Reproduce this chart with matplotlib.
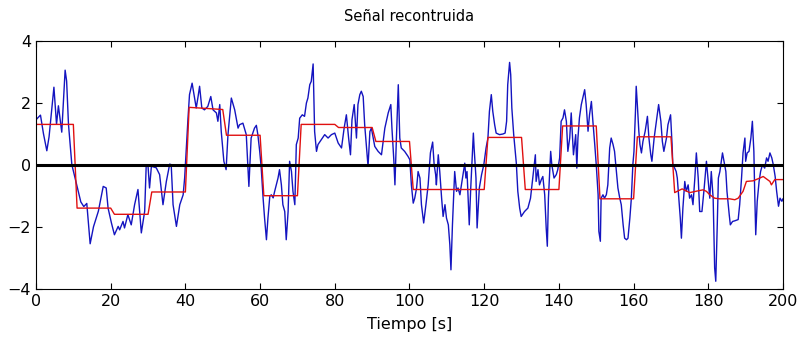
import matplotlib
matplotlib.use('Agg')
import matplotlib.pyplot as plt
from matplotlib import font_manager

blue_t = [0, 1.2, 2.0, 2.9, 3.5, 4.2, 4.8, 5.5, 6.0, 6.9, 7.8, 8.2, 8.7, 9.6, 10.5,
          11.5, 12.0, 12.8, 13.6, 14.5, 15.4, 16.7, 18.0, 18.8, 19.3, 20.2, 21.0,
          22.0, 22.4, 23.3, 23.7, 24.6, 25.5, 26.4, 27.3, 28.2, 29.1, 29.5, 30.0,
          30.4, 30.9, 32.2, 33.1, 34.0, 34.9, 35.8, 36.2, 36.7, 37.6, 38.5, 39.4,
          39.8, 40.7, 41.1, 41.8, 42.3, 42.9, 43.4, 43.8, 44.4, 45.1, 46.0, 46.8,
          47.4, 48.3, 48.7, 49.2, 49.6, 50.3, 50.9, 51.4, 52.3, 53.2, 54.1, 54.5,
          55.4, 56.3, 56.8, 57.0, 57.6, 58.5, 59.0, 59.4, 59.9, 60.3, 60.8, 61.2,
          61.7, 62.1, 62.6, 63.0, 63.5, 63.9, 64.8, 65.2, 65.7, 66.1, 66.6, 67.0,
          67.5, 67.9, 68.4, 68.8, 69.3, 69.7, 70.2, 70.6, 71.3, 71.9, 72.4, 72.8,
          73.3, 73.7, 74.2, 74.6, 75.1, 75.5, 76.4, 77.3, 78.2, 79.1, 80.0, 80.9,
          81.8, 82.5, 83.1, 83.7, 84.2, 84.6, 85.2, 85.8, 86.2, 86.7, 87.1, 87.6,
          88.0, 88.5, 88.9, 89.4, 89.8, 90.3, 90.7, 91.6, 92.5, 93.4, 94.3, 95.0,
          95.3, 95.8, 96.1, 96.5, 97.0, 97.4, 97.8, 98.7, 99.6, 100.1, 100.5,
          101.0, 101.4, 101.9, 102.3, 102.8, 103.2, 103.8, 104.4, 105.0, 105.6,
          106.2, 106.6, 107.0, 107.2, 107.7, 108.1, 108.6, 109.0, 109.5, 109.9,
          110.4, 110.8, 111.1, 111.5, 112.1, 112.6, 113.0, 113.5, 114.2, 114.8,
          115.1, 115.4, 116.0, 116.4, 116.9, 117.1, 117.3, 117.8, 118.1, 118.7,
          119.3, 119.9, 120.5, 121.0, 121.4, 121.9, 122.3, 122.8, 123.2, 124.1,
          125.0, 125.6, 126.0, 126.3, 126.8, 127.1, 127.4, 127.9, 128.6, 129.0,
          129.5, 129.9, 130.8, 131.7, 132.4, 132.9, 133.3, 133.7, 133.9, 134.4,
          134.8, 135.3, 135.7, 136.2, 136.6, 136.9, 137.2, 137.8, 138.1, 138.7,
          139.3, 139.7, 140.2, 140.6, 141.1, 141.5, 142.0, 142.4, 142.9, 143.3,
          143.6, 143.9, 144.5, 144.8, 145.1, 145.5, 146.0, 146.4, 146.9, 147.3,
          147.8, 148.2, 148.7, 149.1, 149.6, 150.0, 150.5, 150.7, 151.1, 151.3,
          151.8, 152.2, 152.7, 153.1, 153.6, 154.0, 154.5, 154.9, 155.4, 155.8,
          156.3, 156.7, 157.2, 157.6, 158.1, 158.5, 159.0, 159.4, 159.8, 160.1,
          160.5, 160.7, 161.0, 161.4, 161.7, 162.1, 162.5, 163.1, 163.7, 164.1,
          164.6, 164.9, 165.5, 166.1, 166.7, 167.3, 167.7, 168.1, 168.8, 169.2,
          169.9, 170.3, 170.5, 171.0, 171.4, 171.7, 172.1, 172.5, 172.8, 173.2,
          173.7, 174.1, 174.6, 175.0, 175.5, 175.9, 176.4, 176.8, 177.3, 177.7,
          178.3, 178.9, 179.5, 179.9, 180.4, 180.8, 181.3, 181.7, 182.0, 182.4,
          182.7, 183.1, 183.5, 183.8, 184.2, 184.7, 185.0, 185.6, 185.9, 186.5,
          187.1, 188.0, 188.4, 188.9, 189.3, 189.8, 190.0, 190.4, 190.9, 191.4,
          191.8, 192.2, 192.4, 192.7, 193.1, 193.6, 194.0, 194.5, 195.1, 195.6,
          196.0, 196.5, 197.0, 197.4, 197.9, 198.3, 198.8, 199.2, 199.7, 200.0]
blue_v = [1.45, 1.6, 1.0, 0.45, 0.9, 1.75, 2.5, 1.3, 1.9, 1.05, 3.05, 2.7, 1.3, 0.0, -0.45,
          -0.95, -1.2, -1.35, -1.25, -2.55, -2.0, -1.5, -0.7, -0.75, -1.4, -1.88, -2.26,
          -1.99, -2.1, -1.83, -2.04, -1.61, -1.94, -1.29, -0.8, -2.2, -1.5, -0.05, -0.05,
          -0.75, -0.05, -0.1, -0.32, -1.29, -0.54, 0.02, 0.0, -1.29, -1.99, -1.29, -0.97,
          -0.43, 1.5, 2.26, 2.63, 2.26, 1.83, 2.2, 2.53, 1.83, 1.77, 1.88, 2.2,
          1.77, 1.67, 1.4, 1.94, 1.07, 0.11, -0.16, 0.97, 2.15, 1.77, 1.18, 1.29,
          1.34, 0.97, -0.22, -0.7, 0.86, 1.18, 1.27, 0.97, 0.43, -0.1, -1.07, -1.72,
          -2.42, -1.72, -1.02, -0.97, -1.07, -0.86, -0.43, -0.16, -0.65, -1.29, -1.51, -2.42,
          -1.51, 0.11, -0.22, -0.86, -1.29, 0.65, 0.86, 1.5, 1.61, 1.56, 1.99, 2.15,
          2.58, 2.69, 3.25, 1.07, 0.43, 0.65, 0.81, 0.97, 0.86, 0.97, 1.02, 0.7,
          0.54, 1.18, 1.61, 0.86, 0.32, 1.45, 1.94, 0.86, 1.94, 2.26, 2.37, 2.2,
          1.29, 0.54, -0.05, 1.07, 1.18, 0.86, 0.59, 0.43, 0.32, 1.18, 1.67, 1.94,
          1.18, 0.16, -0.65, 0.86, 2.58, 0.86, 0.54, 0.43, 0.27, 0.16, -0.65,
          -1.24, -1.08, -0.75, -0.22, -0.43, -1.29, -1.88, -1.29, -0.65, 0.38,
          0.73, 0.0, -0.32, -0.65, 0.32, -0.22, -1.08, -1.67, -1.29, -1.72,
          -1.94, -2.58, -3.39, -1.94, -0.22, -0.86, -0.75, -0.97, -0.43, 0.05,
          -0.43, -0.22, -1.94, -0.75, 0.54, 1.02, 0.54, -0.43, -2.04, -0.75,
          -0.32, 0.0, 0.54, 0.86, 1.72, 2.26, 1.72, 1.29, 1.02, 0.97,
          0.99, 1.02, 1.4, 2.58, 3.3, 2.9, 1.83, 0.97, 0.05, -0.86,
          -1.4, -1.67, -1.51, -1.4, -1.08, -0.54, -0.11, 0.32, -0.54, -0.16,
          -0.65, -0.48, -0.38, -0.97, -2.04, -2.63, -1.08, 0.43, 0.0, -0.43,
          -0.32, -0.16, 0.22, 1.4, 1.51, 1.77, 1.4, 0.43, 0.86, 1.67,
          0.97, 0.32, 0.97, -0.11, 0.86, 1.51, 1.94, 2.15, 2.42, 1.94,
          1.08, 1.61, 2.04, 1.4, 0.65, 0.0, -0.97, -2.15, -2.47, -1.08,
          -0.97, -1.08, -0.97, -0.65, 0.54, 0.86, 0.65, 0.43, -0.22, -0.75,
          -1.08, -1.29, -1.94, -2.37, -2.42, -2.37, -1.72, -1.08, 0.0, 0.43,
          1.72, 2.53, 1.94, 1.08, 0.65, 0.38, 0.75, 1.08, 1.56, 0.86,
          0.32, 0.11, 0.86, 1.4, 1.94, 1.4, 0.75, 0.43, 0.86, 1.29,
          1.61, 0.65, 0.0, -0.11, -0.22, -0.43, -1.08, -1.72, -2.37, -1.4,
          -0.54, -0.86, -0.65, -1.08, -0.97, -1.29, -0.43, 0.38, -0.43, -1.51,
          -1.51, -0.75, 0.11, -0.43, -1.08, -0.22, -1.08, -3.33, -3.76, -1.94,
          -0.43, -0.22, 0.11, 0.38, 0.11, -0.22, -0.86, -1.61, -1.94, -1.83,
          -1.81, -1.77, -1.29, -0.43, 0.38, 0.86, 0.11, 0.38, 0.43, 0.86,
          1.4, 0.43, -0.75, -2.26, -1.18, -0.54, -0.22, 0.0, -0.11, 0.22,
          0.11, 0.38, 0.22, 0.0, -0.38, -0.86, -1.34, -1.08, -1.18, -1.1]

# red: reconstructed signal breakpoints
red_t = [0, 10, 11, 20, 21, 30, 31, 40, 41, 45, 50, 51, 60, 61, 70, 71, 80, 81,
         90, 91, 100, 101, 120, 121, 130, 131, 140, 141, 150, 151, 160, 161, 170,
         171, 173, 175, 177, 178.6, 179.5, 180.4, 181.7, 183, 185.7, 187.1, 188,
         189.3, 190.2, 192, 193.8, 194.7, 196.5, 196.9, 197.8, 200]
red_v = [1.3, 1.3, -1.4, -1.4, -1.6, -1.6, -0.88, -0.88, 1.85, 1.82, 1.78, 0.95,
         0.95, -1.0, -1.0, 1.3, 1.3, 1.2, 1.2, 0.75, 0.75, -0.8, -0.8, 0.88, 0.88,
         -0.8, -0.8, 1.25, 1.25, -1.1, -1.1, 0.9, 0.9, -0.9, -0.78, -0.9, -0.85,
         -0.81, -0.86, -0.97, -1.08, -1.1, -1.1, -1.13, -1.08, -0.86, -0.54, -0.52,
         -0.43, -0.38, -0.54, -0.65, -0.48, -0.48]

xticks = list(range(0, 201, 20))
yticks = [-4, -2, 0, 2, 4]

# narrow tick font if one is installed
names = {f.name for f in font_manager.fontManager.ttflist}
narrow = [n for n in ['Liberation Sans Narrow', 'DejaVu Sans Condensed'] if n in names]
plt.rcParams['font.family'] = narrow + ['DejaVu Sans']

fig = plt.figure(figsize=(7.98, 3.47), dpi=100)
ax = fig.add_axes([0.0451, 0.168, 0.9361, 0.7147])

ax.plot(blue_t, blue_v, color='#1414c0', linewidth=1.0)
ax.plot(red_t, red_v, color='#e01010', linewidth=1.0)
ax.axhline(0, color='black', linewidth=2.2)

ax.set_xlim(0, 200)
ax.set_ylim(-4, 4)
ax.set_xticks(xticks)
ax.set_yticks(yticks)
ax.tick_params(direction='in', top=True, right=True, length=4, labelsize=11.5)
ax.set_xlabel('Tiempo [s]', fontsize=11.5, labelpad=6)
ax.set_title('Señal recontruida', fontsize=10.5, family='DejaVu Sans', pad=14)

fig.savefig('out.png', dpi=100)
